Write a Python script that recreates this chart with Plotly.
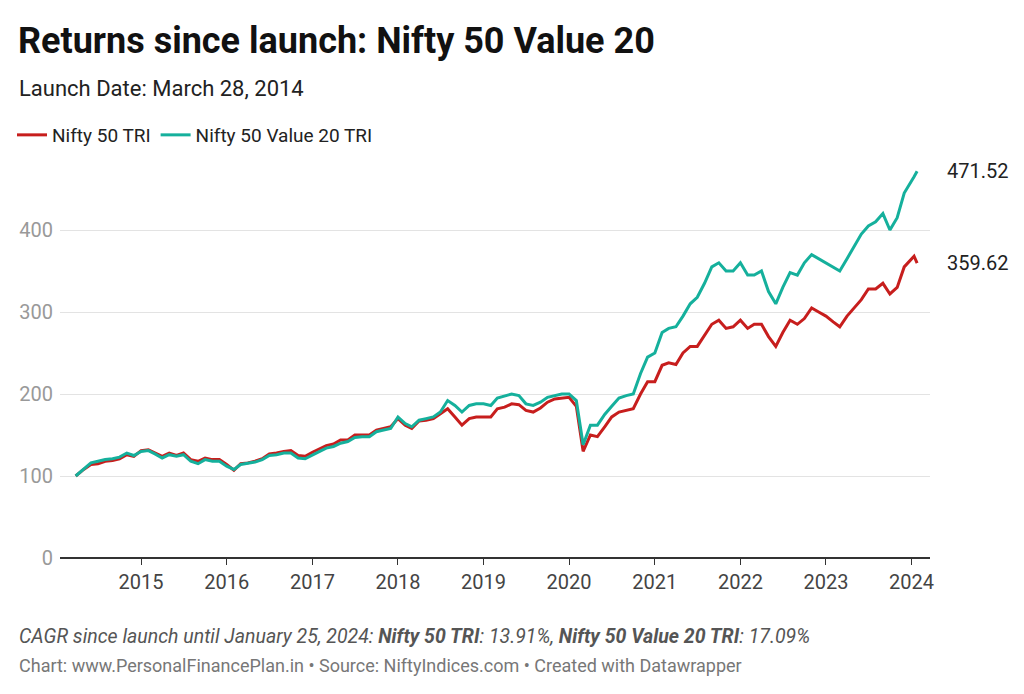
import plotly.graph_objects as go
import pandas as pd

dates = (["2014-03-28"]
         + list(pd.date_range("2014-05-01", "2023-12-01", freq="MS").strftime("%Y-%m-%d"))
         + ["2024-01-12", "2024-01-25"])

nifty50 = [100,108,114,115,118,119,121,126,124,
 131,132,128,124,128,125,128,120,118,122,120,120,
 114,107,115,116,118,121,127,128,130,131,125,124,
 129,133,137,139,144,144,150,150,150,156,158,160,
 170,162,158,167,168,170,176,182,172,162,170,172,
 172,172,182,184,188,187,180,178,183,190,194,195,
 196,185,130,150,148,160,172,178,180,182,200,215,
 215,235,238,236,250,258,258,272,285,290,280,282,
 290,280,285,285,270,258,275,290,285,292,305,300,
 295,288,282,295,305,315,328,328,335,322,330,355,
 368,359.62]
value20 = [100,108,116,118,120,121,123,128,125,
 130,131,127,122,126,124,126,118,115,120,118,118,
 112,108,114,116,117,120,125,126,128,128,122,121,
 125,130,134,136,140,142,147,148,148,154,156,158,
 172,164,160,168,170,172,178,192,186,178,186,188,
 188,186,195,198,200,198,188,186,190,196,198,200,
 200,192,138,162,162,175,185,195,198,200,225,245,
 250,275,280,282,295,310,318,335,355,360,350,350,
 360,345,345,350,325,310,330,348,345,360,370,365,
 360,355,350,365,380,395,405,410,420,400,415,445,
 465,471.52]

fig = go.Figure()
fig.add_trace(go.Scatter(x=dates, y=nifty50, name="Nifty 50 TRI", mode="lines",
                         line=dict(color="#c71e1d", width=3)))
fig.add_trace(go.Scatter(x=dates, y=value20, name="Nifty 50 Value 20 TRI", mode="lines",
                         line=dict(color="#15b09c", width=3)))
for v in (value20[-1], nifty50[-1]):
    fig.add_annotation(x=dates[-1], y=v, text=f"{v:.2f}", xanchor="left", xshift=28,
                       showarrow=False, font=dict(size=20, color="#222"))

# figure is offset 8px by page margin; positions below are in screenshot pixels
L, T, PW, PH = 52, 140, 870, 410
def px(x):
    return (x - 8 - L) / PW
def py(y):
    return 1 - (y - 8 - T) / PH

fig.update_layout(
    width=1024, height=694, plot_bgcolor="white", paper_bgcolor="white",
    font=dict(family="Roboto", color="#222"),
    margin=dict(l=L, r=1024 - L - PW, t=T, b=694 - T - PH, autoexpand=False),
    title=dict(text="<b>Returns since launch: Nifty 50 Value 20</b>", x=10/1024, xanchor="left",
               y=1-32/694, yanchor="middle", font=dict(size=36, color="#111")),
    legend=dict(orientation="h", x=px(12), xanchor="left", y=py(135), yanchor="middle",
                font=dict(size=19), traceorder="normal"),
    showlegend=True,
)
fig.add_annotation(text="Launch Date: March 28, 2014", xref="paper", yref="paper",
                   x=px(17), y=py(88), xanchor="left", yanchor="middle", showarrow=False,
                   font=dict(size=22))
fig.add_annotation(text="<i>CAGR since launch until January 25, 2024: <b>Nifty 50 TRI</b>: 13.91%, <b>Nifty 50 Value 20 TRI</b>: 17.09%</i>",
                   xref="paper", yref="paper", x=px(17), y=py(636), xanchor="left",
                   yanchor="middle", showarrow=False, font=dict(size=19.5, color="#555"))
fig.add_annotation(text="Chart: www.PersonalFinancePlan.in • Source: NiftyIndices.com • Created with Datawrapper",
                   xref="paper", yref="paper", x=px(17), y=py(665), xanchor="left",
                   yanchor="middle", showarrow=False, font=dict(size=18, color="#777"))
fig.update_xaxes(range=["2014-01-20", "2024-03-20"], tickvals=[f"{y}-01-01" for y in range(2015, 2025)],
                 ticktext=[str(y) for y in range(2015, 2025)], ticks="outside", ticklen=6,
                 tickcolor="#333", showgrid=False, showline=False, zeroline=False,
                 tickfont=dict(size=20, color="#444"), automargin=False)
fig.update_yaxes(range=[0, 500], tickvals=[0, 100, 200, 300, 400], gridcolor="#e3e3e3",
                 zeroline=True, zerolinecolor="#333", zerolinewidth=1.5,
                 tickfont=dict(size=20, color="#999"), ticklabelstandoff=6, automargin=False)
fig.write_html("out.html")
